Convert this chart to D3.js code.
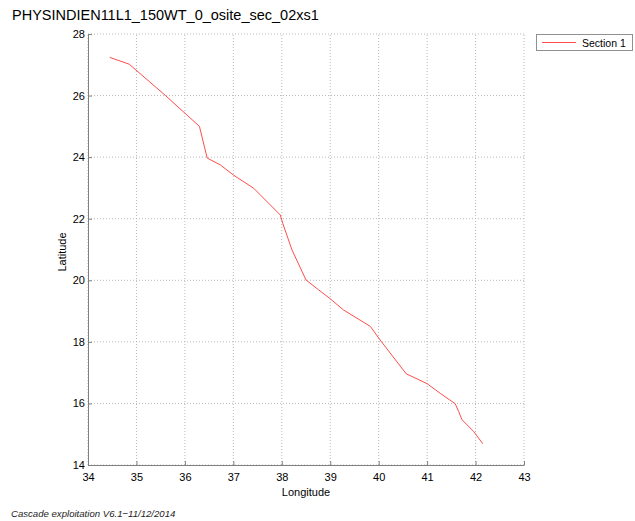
<!DOCTYPE html>
<html><head><meta charset="utf-8">
<script src="https://cdn.jsdelivr.net/npm/d3@7"></script>
<style>body{margin:0;background:#fff}svg{display:block}text{font-family:"Liberation Sans",Arial,sans-serif}</style>
</head><body>
<script>
const title = "PHYSINDIEN11L1_150WT_0_osite_sec_02xs1";
const footer = "Cascade exploitation V6.1\u221211/12/2014";
const seriesName = "Section 1";
const xTicks = [34,35,36,37,38,39,40,41,42,43];
const yTicks = [14,16,18,20,22,24,26,28];
const lon = [34.45,34.85,35.6,36.3,36.46,36.73,37.0,37.42,37.97,38.02,38.21,38.5,38.76,39.0,39.27,39.83,40.03,40.57,40.83,41.0,41.27,41.58,41.65,41.72,41.96,42.15];
const lat = [27.24,27.02,26.0,25.0,23.97,23.75,23.42,22.99,22.12,21.85,20.99,20.01,19.69,19.4,19.04,18.5,18.06,16.96,16.77,16.64,16.33,15.99,15.74,15.47,15.09,14.69];

const W=635,H=521;
const svg=d3.select("body").append("svg").attr("width",W).attr("height",H);
const x=d3.scaleLinear().domain([34,43]).range([88,524]);
const y=d3.scaleLinear().domain([14,28]).range([465,34]);

// grid
svg.append("g").selectAll("line").data(xTicks).join("line")
 .attr("x1",d=>x(d)).attr("x2",d=>x(d)).attr("y1",y(14)).attr("y2",y(28))
 .attr("stroke","#b8b8b8").attr("stroke-dasharray","1,2").attr("stroke-width",1);
svg.append("g").selectAll("line").data(yTicks).join("line")
 .attr("y1",d=>y(d)).attr("y2",d=>y(d)).attr("x1",x(34)).attr("x2",x(43))
 .attr("stroke","#b8b8b8").attr("stroke-dasharray","1,2").attr("stroke-width",1);

// axes
const xa=svg.append("g").attr("transform",`translate(0,${y(14)})`)
 .call(d3.axisBottom(x).tickValues(xTicks).tickSize(-4).tickPadding(8).tickSizeOuter(0));
const ya=svg.append("g").attr("transform",`translate(${x(34)},0)`)
 .call(d3.axisLeft(y).tickValues(yTicks).tickSize(-4).tickPadding(3).tickSizeOuter(0));
[xa,ya].forEach(a=>{a.select(".domain").attr("stroke","#808080");a.selectAll(".tick line").attr("stroke","#808080");
 a.selectAll("text").attr("font-size",11).attr("fill","#000").attr("font-family","Liberation Sans, Arial, sans-serif");});

// line
svg.append("path").datum(lon.map((d,i)=>[d,lat[i]]))
 .attr("d",d3.line().x(d=>x(d[0])).y(d=>y(d[1])))
 .attr("fill","none").attr("stroke","#ff4d4d").attr("stroke-width",1);

// labels
svg.append("text").attr("x",12).attr("y",20).attr("font-size",14.5).text(title);
svg.append("text").attr("x",306).attr("y",496).attr("text-anchor","middle").attr("font-size",11).text("Longitude");
svg.append("text").attr("transform","translate(66,252) rotate(-90)").attr("text-anchor","middle").attr("font-size",11).text("Latitude");
svg.append("text").attr("x",11).attr("y",517).attr("font-size",9.6).attr("font-style","italic").attr("fill","#222").text(footer);

// legend
const lg=svg.append("g");
lg.append("rect").attr("x",536.5).attr("y",34.5).attr("width",96).attr("height",16).attr("fill","#fff").attr("stroke","#909090");
lg.append("line").attr("x1",542).attr("x2",576).attr("y1",42.5).attr("y2",42.5).attr("stroke","#ff4d4d");
lg.append("text").attr("x",582).attr("y",46.5).attr("font-size",10.5).text(seriesName);
</script>
</body></html>
